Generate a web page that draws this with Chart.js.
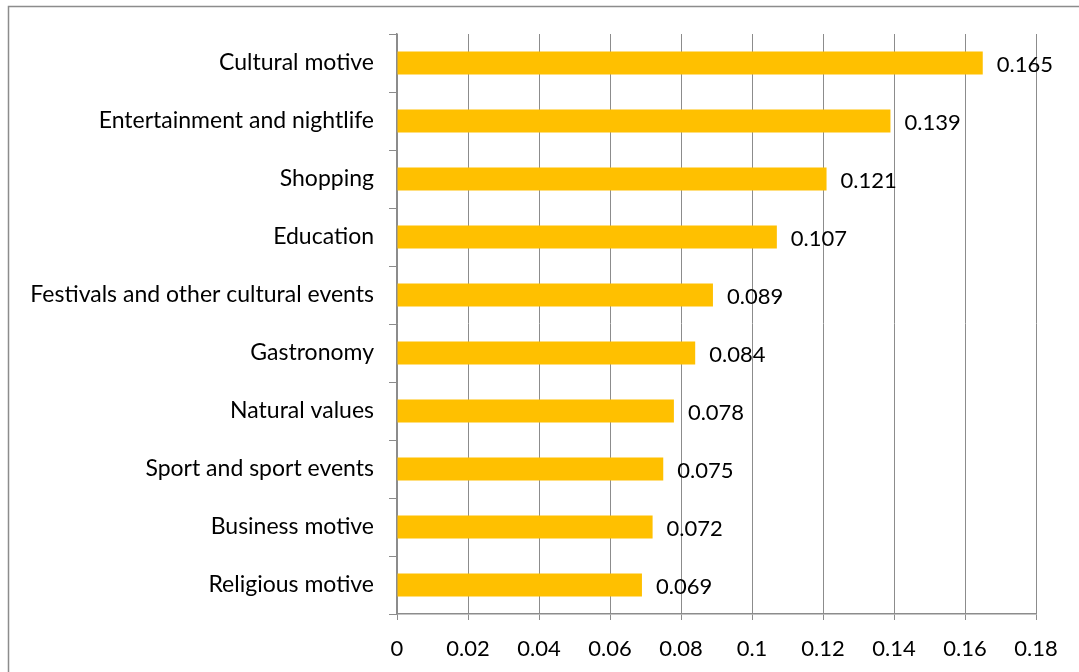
<!DOCTYPE html>
<html>
<head>
<meta charset="utf-8">
<script src="https://cdn.jsdelivr.net/npm/chart.js@4"></script>
<style>
  html, body { margin: 0; padding: 0; background: #fff; }
  #wrap { width: 1079px; height: 672px; position: relative; }
</style>
</head>
<body>
<div id="wrap"><canvas id="motivosGr"></canvas></div>
<script>
// Motives - values
const motivos = [
    'Cultural motive',
    'Entertainment and nightlife',
    'Shopping',
    'Education',
    'Festivals and other cultural events',
    'Gastronomy',
    'Natural values',
    'Sport and sport events',
    'Business motive',
    'Religious motive'
];
const valores = [0.165, 0.139, 0.121, 0.107, 0.089, 0.084, 0.078, 0.075, 0.072, 0.069];
const ejeMin = 0;
const ejeMax = 0.18;
const ejePaso = 0.02;

const fuente = "Lato, 'Open Sans', sans-serif";

// marco exterior del gráfico
const marco = {
    id: 'marco',
    beforeDraw(chart) {
        const ctx = chart.ctx;
        ctx.save();
        ctx.strokeStyle = '#8c8c8c';
        ctx.lineWidth = 1.5;
        ctx.beginPath();
        ctx.moveTo(8.5, chart.height + 2);
        ctx.lineTo(8.5, 6.5);
        ctx.lineTo(chart.width + 2, 6.5);
        ctx.stroke();
        ctx.restore();
    }
};

// etiquetas de valor a la derecha de cada barra
const etiquetas = {
    id: 'etiquetas',
    afterDatasetsDraw(chart) {
        const ctx = chart.ctx;
        const meta = chart.getDatasetMeta(0);
        ctx.save();
        ctx.font = '22px ' + fuente;
        ctx.fillStyle = '#000';
        ctx.textAlign = 'left';
        ctx.textBaseline = 'middle';
        meta.data.forEach((bar, i) => {
            ctx.fillText(String(valores[i]), bar.x + 14, bar.y + 1.5);
        });
        ctx.restore();
    }
};

const data = {
    labels: motivos,
    datasets: [{
        data: valores,
        backgroundColor: '#FFC000',
        borderWidth: 0,
        barPercentage: 0.4,
        categoryPercentage: 1.0
    }]
};

const config = {
    type: 'bar',
    data: data,
    options: {
        indexAxis: 'y',
        responsive: true,
        maintainAspectRatio: false,
        animation: false,
        layout: {
            padding: { top: 34, right: 43, left: 0, bottom: 0 }
        },
        plugins: {
            legend: { display: false },
            tooltip: { enabled: false }
        },
        scales: {
            x: {
                min: ejeMin,
                max: ejeMax,
                afterFit(scale) { scale.height = 58; },
                ticks: {
                    stepSize: ejePaso,
                    color: '#000',
                    padding: 16,
                    font: { size: 22, family: fuente },
                    callback: (v) => String(parseFloat(v.toFixed(2)))
                },
                grid: {
                    color: '#8c8c8c',
                    lineWidth: 1,
                    tickLength: 6
                },
                border: { color: '#8c8c8c', width: 1.5 }
            },
            y: {
                afterFit(scale) { scale.width = 397; },
                ticks: {
                    color: '#000',
                    padding: 15,
                    font: { size: 23, family: fuente }
                },
                grid: {
                    drawOnChartArea: false,
                    color: '#8c8c8c',
                    tickLength: 8
                },
                border: { color: '#8c8c8c', width: 1.5 }
            }
        }
    },
    plugins: [marco, etiquetas]
};

const miGrafico = new Chart(document.getElementById('motivosGr'), config);
</script>
</body>
</html>
